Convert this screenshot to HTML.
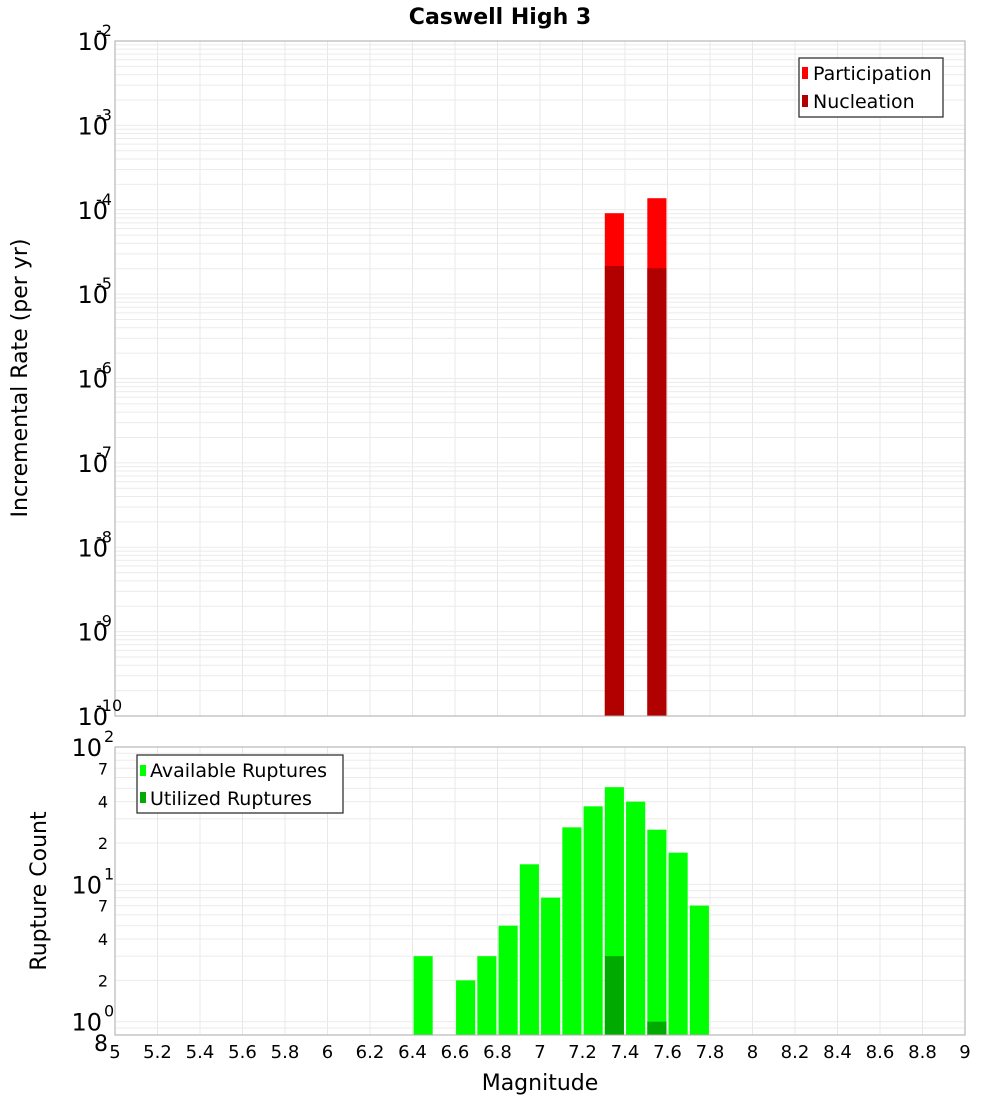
<!DOCTYPE html>
<html><head><meta charset="utf-8"><style>
body{margin:0;background:#fff;}
svg{display:block;font-family:"DejaVu Sans","Liberation Sans",sans-serif;}
</style></head><body>
<svg id="c" width="1000" height="1100" xmlns="http://www.w3.org/2000/svg">
<text x="500" y="24" text-anchor="middle" font-size="22" font-weight="bold">Caswell High 3</text>
<g id="topg"></g>
<g id="botg"></g>
<text transform="translate(27,378) rotate(-90)" text-anchor="middle" font-size="22">Incremental Rate (per yr)</text>
<text transform="translate(46,891) rotate(-90)" text-anchor="middle" font-size="22">Rupture Count</text>
<text x="540" y="1090" text-anchor="middle" font-size="22">Magnitude</text>
<g>
<rect x="799" y="58" width="144" height="59" fill="#fff" stroke="#333" stroke-width="1.3"/>
<rect x="802" y="67" width="6" height="12" fill="#ff0000"/>
<text x="813" y="80" font-size="19">Participation</text>
<rect x="802" y="95" width="6" height="12" fill="#b00000"/>
<text x="813" y="108" font-size="19">Nucleation</text>
</g>
<g>
<rect x="137" y="755" width="206" height="58" fill="#fff" stroke="#333" stroke-width="1.3"/>
<rect x="140" y="765" width="6" height="11" fill="#00ff00"/>
<text x="150" y="777" font-size="19">Available Ruptures</text>
<rect x="140" y="792" width="6" height="11" fill="#00aa00"/>
<text x="150" y="805" font-size="19">Utilized Ruptures</text>
</g>
</svg>
<script>
const mags=[6.45,6.55,6.65,6.75,6.85,6.95,7.05,7.15,7.25,7.35,7.45,7.55,7.65,7.75];
const available=[3,0,2,3,5,14,8,26,37,51,40,25,17,7];
const utilized=[0,0,0,0,0,0,0,0,0,3,0,1,0,0];
const rateMags=[7.35,7.55];
const participation=[9.1e-5,1.37e-4];
const nucleation=[2.15e-5,2.03e-5];
const xTicks=[5,5.2,5.4,5.6,5.8,6,6.2,6.4,6.6,6.8,7,7.2,7.4,7.6,7.8,8,8.2,8.4,8.6,8.8,9];

const NS="http://www.w3.org/2000/svg";
const X0=115,X1=965;
const xs=m=>X0+(m-5)/4*(X1-X0);
const T0=41,T1=716;
const yT=v=>T1-(Math.log10(v)+10)/8*(T1-T0);
const B0=747,B1=1035;
const lb0=Math.log10(0.8),lb1=2;
const yB=v=>B1-(Math.log10(v)-lb0)/(lb1-lb0)*(B1-B0);
function mk(p,t,a){const e=document.createElementNS(NS,t);for(const k in a)e.setAttribute(k,a[k]);p.appendChild(e);return e;}
const gTop=document.getElementById('topg'),gBot=document.getElementById('botg');
for(const m of xTicks){
 const g1=mk(gTop,'line',{x1:xs(m),x2:xs(m),y1:T0,y2:T1,stroke:'#e8e8e8'});
 
 
 const g2=mk(gBot,'line',{x1:xs(m),x2:xs(m),y1:B0,y2:B1,stroke:'#e8e8e8'});
 
 
}
for(let d=-10;d<-2;d++)for(let k=1;k<10;k++){
 const v=k*Math.pow(10,d);
 const l=mk(gTop,'line',{x1:X0,x2:X1,y1:yT(v),y2:yT(v),stroke:'#ebebeb'});
 
 
}
for(let d=-1;d<2;d++)for(let k=1;k<10;k++){
 const v=k*Math.pow(10,d);if(v<0.8)continue;
 const l=mk(gBot,'line',{x1:X0,x2:X1,y1:yB(v),y2:yB(v),stroke:'#ebebeb'});
 
 
}
rateMags.forEach((m,i)=>{
 const w=xs(5.09)-X0;
 const p=mk(gTop,'rect',{x:xs(m)-w/2,y:yT(participation[i]),width:w,height:T1-yT(participation[i]),fill:'#ff0000'});
 
 
 const n=mk(gTop,'rect',{x:xs(m)-w/2,y:yT(nucleation[i]),width:w,height:T1-yT(nucleation[i]),fill:'#b00000'});
 
 
});
mags.forEach((m,i)=>{
 const w=xs(5.09)-X0;
 if(available[i]>0){
  const a=mk(gBot,'rect',{x:xs(m)-w/2,y:yB(available[i]),width:w,height:B1-yB(available[i]),fill:'#00ff00'});
  
  
 }
 if(utilized[i]>0){
  const u=mk(gBot,'rect',{x:xs(m)-w/2,y:yB(utilized[i]),width:w,height:B1-yB(utilized[i]),fill:'#00aa00'});
  
  
 }
});
mk(gTop,'rect',{x:X0,y:T0,width:X1-X0,height:T1-T0,fill:'none',stroke:'#aaa'});
mk(gBot,'rect',{x:X0,y:B0,width:X1-X0,height:B1-B0,fill:'none',stroke:'#aaa'});
for(let d=-10;d<=-2;d++){
 const y=yT(Math.pow(10,d));
 const t=mk(gTop,'text',{x:108,y:y+9,'text-anchor':'end','font-size':24});
 
 
 t.textContent='10';
 const s=mk(gTop,'text',{x:96,y:y-5,'font-size':16});
 
 
 s.textContent=String(d);
}
[[1,'0'],[10,'1'],[100,'2']].forEach(([v,e])=>{
 const y=yB(v);
 const t=mk(gBot,'text',{x:102,y:y+9,'text-anchor':'end','font-size':24});
 
 
 t.textContent='10';
 const s=mk(gBot,'text',{x:104,y:y-5,'font-size':16});
 
 
 s.textContent=e;
});
[[0.8,'8'],[2,'2'],[4,'4'],[7,'7'],[20,'2'],[40,'4'],[70,'7']].forEach(([v,l])=>{
 const big=v===0.8;
 const t=mk(gBot,'text',{x:108,y:big?yB(v)+16:yB(v)+6,'text-anchor':'end','font-size':big?22:16});
 
 
 t.textContent=l;
});
for(const m of xTicks){
 const t=mk(gBot,'text',{x:xs(m),y:1058,'text-anchor':'middle','font-size':18});
 
 
 t.textContent=String(m);
}
</script>
</body></html>
